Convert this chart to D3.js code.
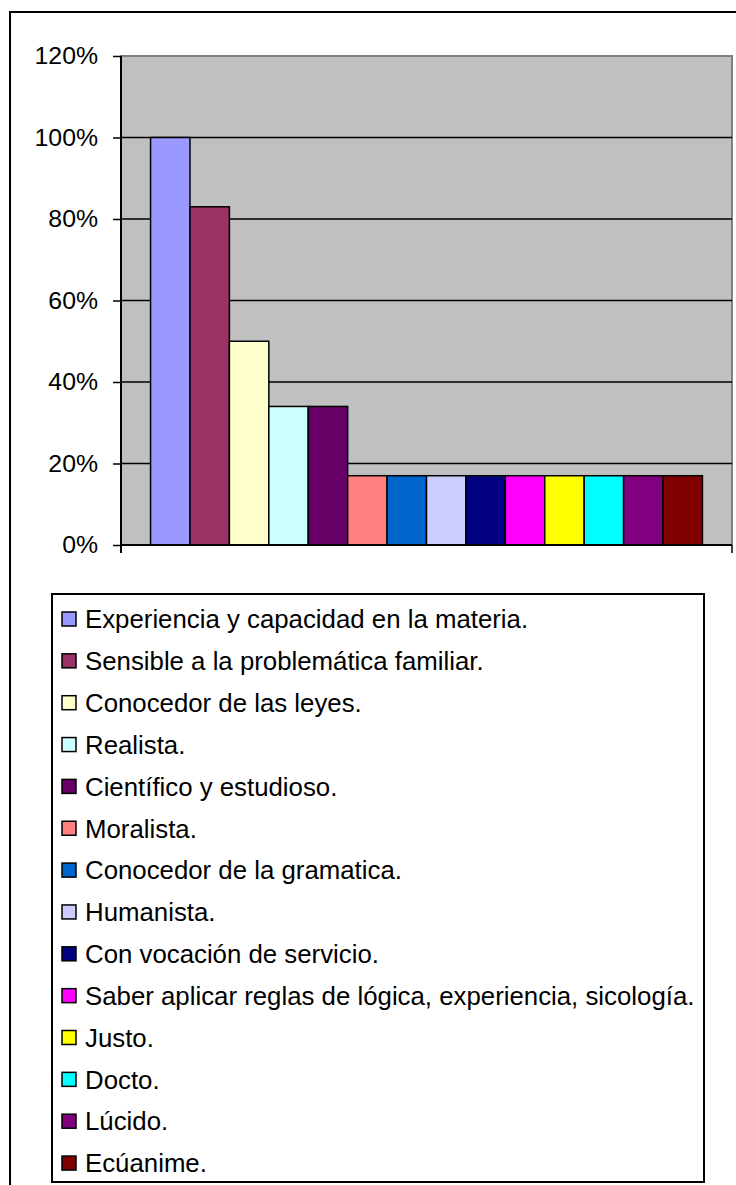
<!DOCTYPE html>
<html>
<head>
<meta charset="utf-8">
<script src="https://cdn.jsdelivr.net/npm/d3@7"></script>
<style>
  html, body { margin: 0; padding: 0; background: #fff; }
  svg { display: block; }
  text { font-family: "Liberation Sans", Arial, sans-serif; fill: #000; }
</style>
</head>
<body>
<svg id="chart" width="736" height="1185"></svg>
<script>
// ---- data ----
const categories = [""];
const seriesNames = [
  "Experiencia y capacidad en la materia.",
  "Sensible a la problemática familiar.",
  "Conocedor de las leyes.",
  "Realista.",
  "Científico y estudioso.",
  "Moralista.",
  "Conocedor de la gramatica.",
  "Humanista.",
  "Con vocación de servicio.",
  "Saber aplicar reglas de lógica, experiencia, sicología.",
  "Justo.",
  "Docto.",
  "Lúcido.",
  "Ecúanime."
];
const seriesValues = [1.00, 0.83, 0.50, 0.34, 0.34, 0.17, 0.17, 0.17, 0.17, 0.17, 0.17, 0.17, 0.17, 0.17];
const seriesColors = ["#9999FF", "#993366", "#FFFFCC", "#CCFFFF", "#660066", "#FF8080", "#0066CC",
                      "#CCCCFF", "#000080", "#FF00FF", "#FFFF00", "#00FFFF", "#800080", "#800000"];
const yTicks = [0, 0.2, 0.4, 0.6, 0.8, 1.0, 1.2];
const yTickLabels = ["0%", "20%", "40%", "60%", "80%", "100%", "120%"];

// ---- layout ----
const svg = d3.select("#chart");
const plot = { left: 121, right: 732, top: 56, bottom: 545 };

// outer chart border (extends past the right and bottom edges)
svg.append("rect")
  .attr("x", 10).attr("y", 12)
  .attr("width", 800).attr("height", 1300)
  .attr("fill", "#fff").attr("stroke", "#000").attr("stroke-width", 2);

const y = d3.scaleLinear().domain([0, 1.2]).range([plot.bottom, plot.top]);
const x0 = d3.scaleBand().domain(categories).range([plot.left, plot.right]).padding(0);
const x1 = d3.scaleBand().domain(seriesNames).range([0, x0.bandwidth()])
  .paddingInner(0).paddingOuter(0.75);

// plot area
svg.append("rect")
  .attr("x", plot.left).attr("y", plot.top)
  .attr("width", plot.right - plot.left).attr("height", plot.bottom - plot.top)
  .attr("fill", "#C0C0C0").attr("stroke", "#808080").attr("stroke-width", 2);

// gridlines
svg.append("g").selectAll("line")
  .data(yTicks.filter(t => t > 0 && t < 1.2))
  .join("line")
  .attr("x1", plot.left).attr("x2", plot.right)
  .attr("y1", d => y(d)).attr("y2", d => y(d))
  .attr("stroke", "#000").attr("stroke-width", 1.5);

// bars
const data = seriesNames.map((n, i) => ({ name: n, value: seriesValues[i], color: seriesColors[i], cat: categories[0] }));
svg.append("g").selectAll("rect")
  .data(data)
  .join("rect")
  .attr("x", d => x0(d.cat) + x1(d.name))
  .attr("y", d => y(d.value))
  .attr("width", x1.bandwidth())
  .attr("height", d => y(0) - y(d.value))
  .attr("fill", d => d.color)
  .attr("stroke", "#000").attr("stroke-width", 1.5);

// y axis
const yAxis = d3.axisLeft(y)
  .tickValues(yTicks)
  .tickFormat((d, i) => yTickLabels[i])
  .tickSize(8).tickPadding(15);
const ya = svg.append("g").attr("transform", `translate(${plot.left},0)`).call(yAxis);
ya.select(".domain").attr("stroke", "#000").attr("stroke-width", 2).attr("d", `M0,${plot.top}V${plot.bottom + 8}`);
ya.selectAll(".tick line").attr("stroke", "#000").attr("stroke-width", 1.5);
ya.selectAll(".tick text").attr("font-size", 24.8).attr("font-family", '"Liberation Sans", Arial, sans-serif').attr("fill", "#000");

// x axis
const xAxis = d3.axisBottom(x0).tickSize(0).tickFormat("");
const xa = svg.append("g").attr("transform", `translate(0,${plot.bottom})`).call(xAxis);
xa.select(".domain").attr("stroke", "#000").attr("stroke-width", 2).attr("d", `M${plot.left},0H${plot.right}`);
xa.append("line").attr("x1", plot.right).attr("x2", plot.right).attr("y1", 0).attr("y2", 8)
  .attr("stroke", "#000").attr("stroke-width", 1.5);

// legend
const legend = { left: 52, top: 594, right: 704, bottom: 1182, firstY: 619, step: 41.85 };
svg.append("rect")
  .attr("x", legend.left).attr("y", legend.top)
  .attr("width", legend.right - legend.left).attr("height", legend.bottom - legend.top)
  .attr("fill", "#fff").attr("stroke", "#000").attr("stroke-width", 2);

const items = svg.append("g").selectAll("g")
  .data(data)
  .join("g")
  .attr("transform", (d, i) => `translate(0,${legend.firstY + i * legend.step})`);
items.append("rect")
  .attr("x", 62).attr("y", -7).attr("width", 14).attr("height", 14)
  .attr("fill", d => d.color).attr("stroke", "#000").attr("stroke-width", 1.5);
items.append("text")
  .attr("x", 85).attr("y", 0).attr("dy", "0.36em")
  .attr("font-size", 25.8)
  .text(d => d.name);
</script>
</body>
</html>
